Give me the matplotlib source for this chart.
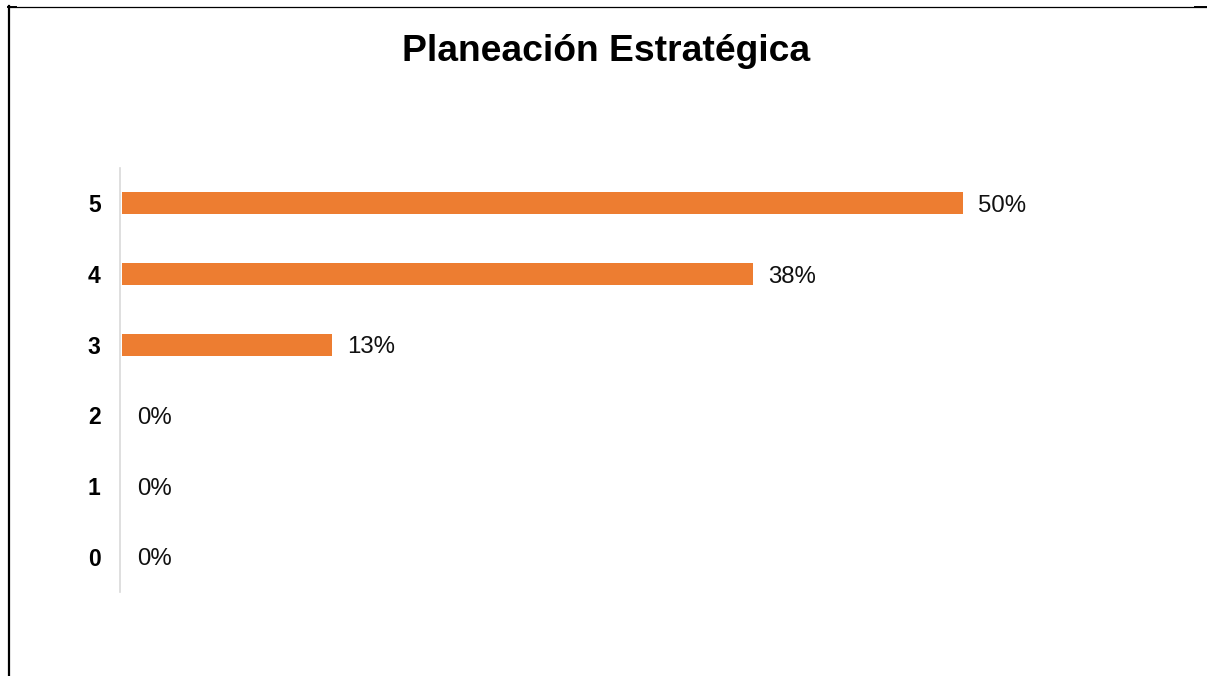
import matplotlib
matplotlib.use("Agg")
import matplotlib.pyplot as plt
from matplotlib.lines import Line2D

plt.rcParams["font.family"] = ["Liberation Sans", "DejaVu Sans"]

categories = ["0", "1", "2", "3", "4", "5"]
values = [0, 0, 0, 12.5, 37.5, 50]
value_labels = ["0%", "0%", "0%", "13%", "38%", "50%"]
title = "Planeación Estratégica"

W, H = 1207, 676
fig = plt.figure(figsize=(W / 100, H / 100), dpi=100)

# axes placed in pixel coords: left 120, right 1100, top 168, bottom 592
left, right, top, bottom = 120, 1100, 168, 592
ax = fig.add_axes([left / W, 1 - bottom / H, (right - left) / W, (bottom - top) / H])

px_per_pct = (963 - 122) / 50
ax.set_xlim(0, (right - left) / px_per_pct)
ax.set_ylim(-0.5, len(categories) - 0.5)

gap = 0.12  # bars start just right of the axis line
ypos = range(len(categories))
ax.barh(ypos, values, height=0.31, color="#ED7D31", left=gap)

for y, v, lab in zip(ypos, values, value_labels):
    ax.annotate(lab, xy=(v + gap, y), xytext=(11, -1.8), textcoords="offset points",
                va="center", ha="left", fontsize=17.3, color="#111111")

ax.set_yticks(list(ypos))
ax.set_yticklabels(categories, fontweight="bold", fontsize=16.5)
ax.tick_params(axis="y", length=0, pad=14)
ax.set_xticks([])
for s in ["top", "right", "bottom"]:
    ax.spines[s].set_visible(False)
ax.spines["left"].set_color("#d9d9d9")
ax.spines["left"].set_linewidth(1.2)

fig.text(606 / W, 1 - 61 / H, title, ha="center", va="baseline",
         fontsize=26.8, fontweight="bold")

# outer frame lines
def px(x, y):
    return x / W, 1 - y / H

fig.add_artist(Line2D(*zip(px(8, 6.5), px(W, 6.5)), color="black", lw=0.9))
fig.add_artist(Line2D(*zip(px(8.8, 6), px(8.8, H)), color="black", lw=1.6))
fig.add_artist(Line2D(*zip(px(8, 6.8), px(16, 6.8)), color="black", lw=1.4))
fig.add_artist(Line2D(*zip(px(1195, 6.8), px(W, 6.8)), color="black", lw=1.4))

fig.savefig("out.png", dpi=100, facecolor="white")
